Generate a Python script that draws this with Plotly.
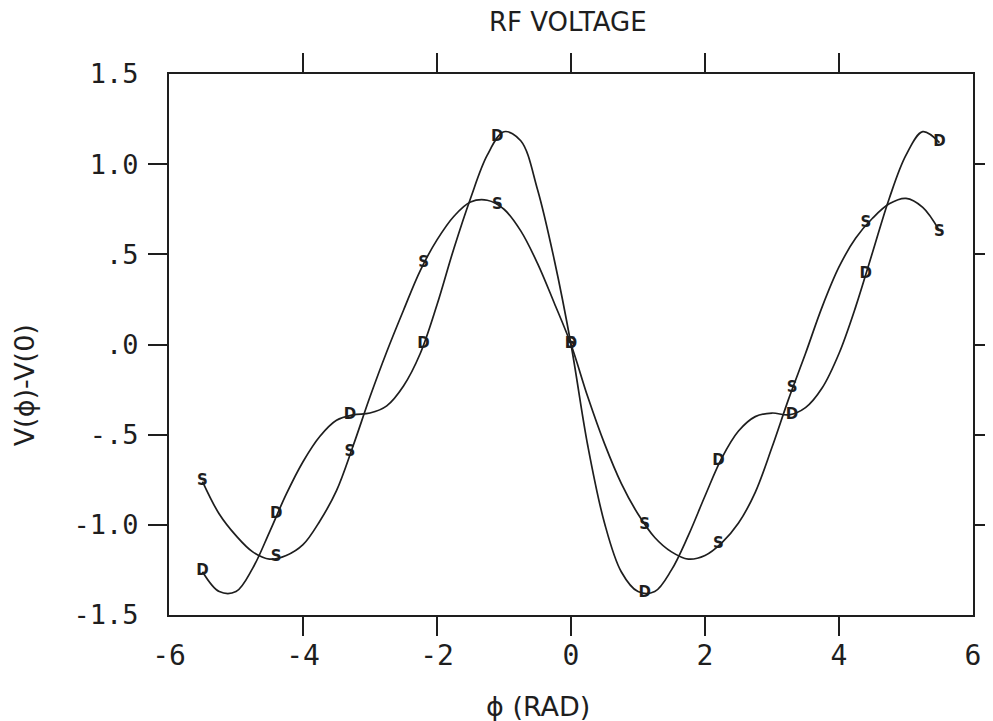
import plotly.graph_objects as go

# ---- data ----
phi = [-5.5, -5.25, -5.0, -4.75, -4.5, -4.25, -4.0, -3.75, -3.5, -3.25, -3.0,
       -2.75, -2.5, -2.25, -2.0, -1.75, -1.5, -1.25, -1.0, -0.75, -0.5, -0.25,
       0.0, 0.25, 0.5, 0.75, 1.0, 1.25, 1.5, 1.75, 2.0, 2.25, 2.5, 2.75, 3.0,
       3.25, 3.5, 3.75, 4.0, 4.25, 4.5, 4.75, 5.0, 5.25, 5.5]

s_curve = [-0.76, -0.94, -1.06, -1.15, -1.19, -1.17, -1.11, -0.98, -0.81, -0.56, -0.29,
           -0.04, 0.19, 0.41, 0.58, 0.71, 0.79, 0.80, 0.75, 0.63, 0.45, 0.23,
           0.00, -0.29, -0.55, -0.77, -0.94, -1.07, -1.15, -1.19, -1.17, -1.10, -0.99, -0.82, -0.57,
           -0.30, -0.05, 0.21, 0.43, 0.59, 0.70, 0.78, 0.81, 0.76, 0.63]

d_curve = [-1.26, -1.37, -1.37, -1.24, -1.04, -0.83, -0.65, -0.51, -0.42, -0.39, -0.38,
           -0.34, -0.23, -0.05, 0.22, 0.53, 0.81, 1.05, 1.18, 1.13, 0.86, 0.47,
           0.00, -0.56, -0.99, -1.26, -1.37, -1.37, -1.25, -1.06, -0.84, -0.63, -0.48, -0.40, -0.38,
           -0.39, -0.35, -0.24, -0.05, 0.21, 0.51, 0.81, 1.05, 1.18, 1.12]

marker_phi = [-5.5, -4.4, -3.3, -2.2, -1.1, 0.0, 1.1, 2.2, 3.3, 4.4, 5.5]
s_marks = [-0.76, -1.18, -0.60, 0.45, 0.77, 0.00, -1.00, -1.11, -0.24, 0.67, 0.62]
d_marks = [-1.26, -0.94, -0.39, 0.00, 1.15, 0.00, -1.38, -0.65, -0.39, 0.39, 1.12]

x_tick_vals = [-6, -4, -2, 0, 2, 4, 6]
x_tick_text = ["-6", "-4", "-2", "0", "2", "4", "6"]
x_inner_ticks = [-4, -2, 0, 2, 4]
y_tick_vals = [-1.5, -1.0, -0.5, 0.0, 0.5, 1.0, 1.5]
y_tick_text = ["-1.5", "-1.0", "-.5", ".0", ".5", "1.0", "1.5"]
y_inner_ticks = [-1.0, -0.5, 0.0, 0.5, 1.0]

INK = "#1e1e1e"
MONO = "DejaVu Sans Mono"
SANS = "DejaVu Sans"

# the page body has an 8px default margin: size the figure so it still fits the window
FIG_W, FIG_H = 985, 713

fig = go.Figure()
fig.add_trace(go.Scatter(x=phi, y=s_curve, mode="lines", line=dict(color=INK, width=1.7, shape="spline"),
                         showlegend=False, hoverinfo="skip"))
fig.add_trace(go.Scatter(x=phi, y=d_curve, mode="lines", line=dict(color=INK, width=1.7, shape="spline"),
                         showlegend=False, hoverinfo="skip"))
fig.add_trace(go.Scatter(x=marker_phi, y=s_marks, mode="text", text=["S"] * len(marker_phi),
                         textposition="middle center",
                         textfont=dict(family=SANS, size=15, color=INK, weight="bold"),
                         showlegend=False, hoverinfo="skip"))
fig.add_trace(go.Scatter(x=marker_phi, y=d_marks, mode="text", text=["D"] * len(marker_phi),
                         textposition="middle center",
                         textfont=dict(family=SANS, size=15, color=INK, weight="bold"),
                         showlegend=False, hoverinfo="skip"))
# empty trace so the overlay tick axes render
fig.add_trace(go.Scatter(x=[], y=[], xaxis="x2", yaxis="y2", showlegend=False))

fig.update_layout(
    width=FIG_W, height=FIG_H,
    margin=dict(l=161, r=15, t=66, b=106),
    paper_bgcolor="white", plot_bgcolor="white",
    title=dict(text="RF VOLTAGE", x=0.496, xref="paper", xanchor="center",
               y=1 - 14 / FIG_H, yref="container", yanchor="middle",
               font=dict(family=SANS, size=26, color=INK)),
    xaxis=dict(range=[-6, 6], showgrid=False, zeroline=False,
               showline=True, linecolor=INK, linewidth=2, mirror=True,
               tickvals=x_tick_vals, ticktext=x_tick_text, ticks="outside", ticklen=10,
               tickcolor="rgba(0,0,0,0)", tickfont=dict(family=MONO, size=28, color=INK),
               ticklabelstandoff=4),
    yaxis=dict(range=[-1.5, 1.5], showgrid=False, zeroline=False,
               showline=True, linecolor=INK, linewidth=2, mirror=True,
               tickvals=y_tick_vals, ticktext=y_tick_text, ticks="outside", ticklen=20,
               tickcolor="rgba(0,0,0,0)", tickfont=dict(family=MONO, size=27, color=INK),
               ticklabelstandoff=3),
    xaxis2=dict(range=[-6, 6], overlaying="x", anchor="y2", matches="x", showgrid=False,
                zeroline=False, showline=False, tickvals=x_inner_ticks, ticks="outside",
                ticklen=20, tickwidth=2, tickcolor=INK, mirror="allticks", showticklabels=False),
    yaxis2=dict(range=[-1.5, 1.5], overlaying="y", anchor="x2", matches="y", showgrid=False,
                zeroline=False, showline=False, tickvals=y_inner_ticks, ticks="outside",
                ticklen=20, tickwidth=2, tickcolor=INK, mirror="allticks", showticklabels=False),
    annotations=[
        dict(text="ϕ (RAD)", xref="paper", yref="paper", x=0.459, y=-0.170,
             xanchor="center", yanchor="middle", showarrow=False,
             font=dict(family=SANS, size=27, color=INK)),
        dict(text="V(ϕ)-V(0)", xref="paper", yref="paper", x=-0.180, y=0.425,
             xanchor="center", yanchor="middle", showarrow=False, textangle=-90,
             font=dict(family=SANS, size=27, color=INK)),
    ],
)

fig.write_html("out.html")
